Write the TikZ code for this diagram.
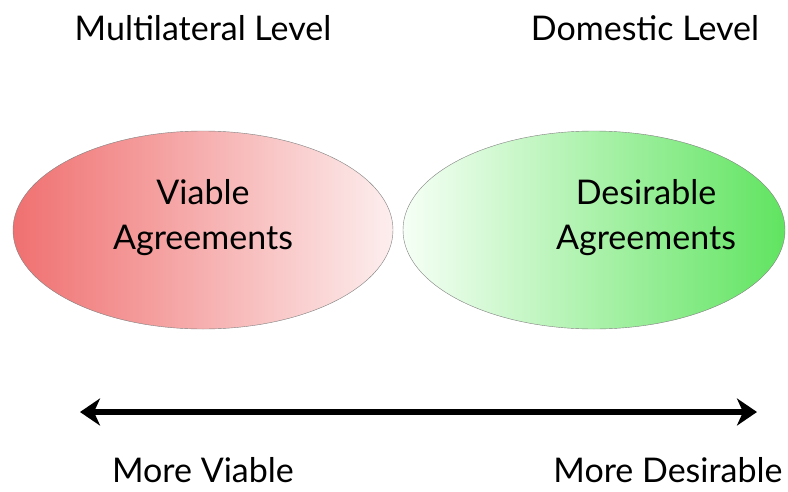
\documentclass[tikz,border=0pt]{standalone}
\usepackage{fontspec}
\setmainfont{Lato}
\usetikzlibrary{shapes.geometric,arrows.meta}
\definecolor{viablered}{RGB}{240,112,112}
\definecolor{viablepale}{RGB}{253,238,238}
\definecolor{desirepale}{RGB}{246,255,246}
\definecolor{desiregreen}{RGB}{96,228,96}
\tikzstyle{red set}=[
    draw = gray,
    thin,
    ellipse,
    minimum width = 380pt,
    minimum height = 198pt,
    left color = viablered,
    right color = viablepale
]
\tikzstyle{green set}=[
    draw = gray,
    thin,
    ellipse,
    minimum width = 382pt,
    minimum height = 198pt,
    left color = desirepale,
    right color = desiregreen
]

\begin{document}
\begin{tikzpicture}[x=1pt, y=-1pt, main/.style = {font=\fontsize{34}{45}\selectfont, align=center, text=black}]
        \useasboundingbox (0,0) rectangle (788,491);

        \node[red set] (viable) at (203,230) {};
        \node[green set] (desirable) at (594,230) {};

        \node[main] (multi) at (203,28) {Multilateral Level};
        \node[main] (domestic) at (645,28) {Domestic Level};

        \node[main] (vtext) at (203,218) {Viable\\Agreements};
        \node[main] (dtext) at (646,218) {Desirable\\Agreements};

        \coordinate (l) at (80,412);
        \coordinate (r) at (757,412);
        \draw[line width=5.5pt, {Stealth[length=20pt,width=27pt,inset=6pt]}-{Stealth[length=20pt,width=27pt,inset=6pt]}] (l) -- (r);

        \node[main] (moreviable) at (203,470) {More Viable};
        \node[main] (moredesire) at (668,470) {More Desirable};

    \end{tikzpicture}
\end{document}
